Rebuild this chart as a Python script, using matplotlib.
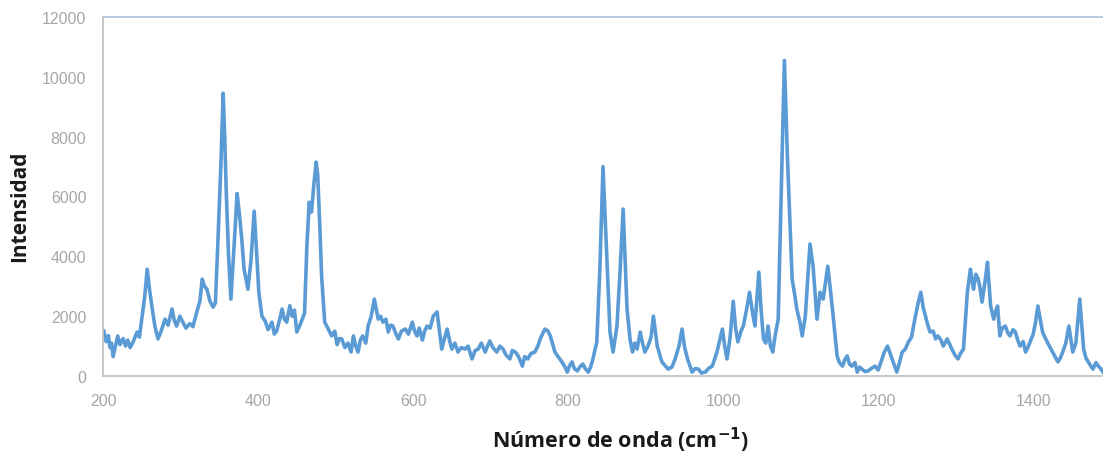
import matplotlib.pyplot as plt

# Raman spectrum
wavenumber = [
    201, 204, 207, 209, 211, 213, 216, 219, 222, 226, 229, 232, 235, 239, 244, 247, 250,
    254, 257, 260, 263, 267, 271, 275, 280, 284, 289, 292, 295, 299, 303, 307,
    312, 316, 321, 325, 328, 331, 334, 338, 342, 345, 348, 352, 355, 357, 359, 362, 365,
    369, 373, 376, 379, 382, 387, 391, 395, 398, 401, 405,
    409, 413, 418, 421, 424, 428, 431, 434, 437, 441, 444, 447, 450, 454, 457, 460,
    463, 466, 469, 472, 475, 477, 480, 482, 486, 490,
    495, 499, 502, 505, 508, 512, 516, 520, 523, 526, 529, 532, 535, 539, 542, 546,
    550, 552, 555, 558, 561, 565, 568, 571, 574, 578, 581, 585, 590, 594,
    599, 602, 605, 608, 612, 615, 618, 622, 626, 631, 634, 637, 641, 644, 647, 650,
    654, 658, 662, 667, 671, 676, 680, 684, 688, 693, 696, 699, 703,
    708, 712, 716, 720, 725, 728, 732, 736, 741, 744, 748, 752, 757, 761, 764, 770,
    774, 777, 783, 787, 792, 796, 799, 802, 805, 808, 812, 815,
    819, 822, 826, 829, 832, 837, 841, 845, 850, 854, 858, 863, 867, 871, 876, 880,
    883, 886, 889, 893, 896, 899, 903, 907, 910, 915, 921, 925, 929, 934, 938, 943,
    947, 950, 954, 960, 964, 968, 972, 977, 981, 986, 992, 999,
    1002, 1005, 1009, 1013, 1016, 1019, 1023, 1026, 1030, 1034, 1038, 1041, 1046,
    1049, 1052, 1055, 1058, 1061, 1064, 1067, 1071,
    1076, 1079, 1083, 1089, 1093, 1095, 1099, 1102, 1106, 1112, 1116, 1121, 1125, 1129,
    1135, 1141, 1147, 1150, 1154, 1157, 1160, 1163, 1166, 1170, 1173, 1176, 1179, 1183,
    1187, 1191, 1196, 1200, 1205, 1208, 1212,
    1218, 1224, 1228, 1231, 1235, 1239, 1243, 1248, 1252, 1255, 1258, 1261, 1264, 1267,
    1271, 1274, 1277, 1281, 1284, 1289,
    1295, 1299, 1303, 1306, 1310, 1315, 1319, 1321, 1323, 1326, 1329, 1331, 1334, 1338,
    1341, 1345, 1349, 1352, 1354,
    1357, 1360, 1364, 1367, 1370, 1374, 1377, 1380, 1383, 1387, 1390, 1393, 1396, 1400,
    1403, 1406, 1409, 1412, 1415, 1418, 1422, 1425,
    1428, 1432, 1435, 1438, 1442, 1446, 1451, 1455, 1460, 1465, 1468, 1471, 1474, 1477,
    1481, 1484, 1487, 1490,
]
intensity = [
    1500, 1150, 1350, 950, 1100, 650, 1000, 1340, 1050, 1250, 1000, 1200, 950, 1150, 1470, 1300, 1900,
    2700, 3570, 2900, 2340, 1650, 1240, 1500, 1900, 1700, 2240, 1850, 1670, 2000, 1800, 1600,
    1750, 1650, 2140, 2500, 3240, 3000, 2900, 2500, 2300, 2450, 4340, 7000, 9450, 8000, 6150, 4000, 2570,
    4300, 6100, 5400, 4580, 3570, 2900, 3900, 5510, 4200, 2800, 2000,
    1850, 1550, 1800, 1400, 1500, 1900, 2240, 1900, 1800, 2350, 2000, 2200, 1470, 1700, 1900, 2100,
    4340, 5810, 5480, 6400, 7150, 6700, 4800, 3340, 1800, 1600,
    1340, 1500, 1050, 1250, 1240, 950, 1100, 800, 1340, 1000, 800, 1200, 1340, 1100, 1670, 2000,
    2570, 2300, 1900, 2000, 1800, 1900, 1470, 1700, 1670, 1400, 1240, 1500, 1570, 1400,
    1800, 1500, 1340, 1600, 1200, 1500, 1670, 1600, 2000, 2140, 1500, 900, 1300, 1570, 1200, 900,
    1100, 800, 950, 900, 1000, 570, 850, 900, 1100, 800, 1000, 1170, 950,
    800, 1000, 900, 700, 570, 850, 800, 650, 330, 650, 570, 750, 800, 1000, 1240, 1570,
    1500, 1340, 800, 650, 470, 300, 130, 350, 470, 250, 170, 300,
    400, 250, 130, 300, 570, 1140, 3600, 7000, 3900, 1470, 800, 1670, 3500, 5580, 2240, 1200,
    800, 1100, 900, 1470, 1100, 800, 1000, 1300, 2000, 1000, 470, 350, 230, 300, 570, 1000,
    1570, 1000, 570, 130, 250, 230, 100, 130, 250, 330, 800, 1570,
    1000, 570, 1300, 2500, 1600, 1140, 1500, 1670, 2200, 2800, 2100, 1670, 3470,
    2200, 1240, 1100, 1670, 1000, 800, 1340, 1900,
    7250, 10550, 7250, 3240, 2600, 2240, 1800, 1340, 2000, 4410, 3670, 1900, 2800, 2570,
    3670, 2240, 670, 450, 330, 550, 670, 400, 330, 450, 130, 300, 230, 150,
    170, 250, 330, 200, 570, 800, 1000,
    570, 130, 500, 800, 900, 1140, 1300, 2000, 2500, 2800, 2300, 2000, 1700, 1470,
    1500, 1240, 1340, 1200, 1000, 1240,
    900, 700, 570, 750, 900, 2800, 3570, 3200, 2900, 3400, 3240, 3000, 2470, 3200,
    3800, 2340, 1900, 2200, 2340,
    1340, 1600, 1670, 1450, 1340, 1550, 1470, 1200, 1000, 1150, 800, 950, 1140, 1400,
    1800, 2340, 1900, 1470, 1300, 1140, 950, 800,
    650, 470, 600, 800, 1100, 1670, 800, 1100, 2570, 900, 600, 470, 350, 230,
    450, 330, 250, 130,
]

fig = plt.figure(figsize=(11.03, 4.56), dpi=100)
ax = fig.add_axes([103 / 1103, 1 - 377 / 456, 1 - 103 / 1103, (377 - 18) / 456])

ax.plot(wavenumber, intensity, color="#5B9BD5", linewidth=2.6, solid_joinstyle="round")

ax.set_xlim(200, 1490)
ax.set_ylim(0, 12000)
ax.set_xticks([200, 400, 600, 800, 1000, 1200, 1400])
ax.set_yticks([0, 2000, 4000, 6000, 8000, 10000, 12000])

# estilo tipo Excel
for side in ["left", "bottom"]:
    ax.spines[side].set_color("#BFBFBF")
    ax.spines[side].set_linewidth(1.2)
ax.spines["top"].set_color("#A9C1DC")
ax.spines["top"].set_linewidth(1.2)
ax.spines["right"].set_visible(False)
ax.tick_params(length=0, labelsize=11.5, labelcolor="#A6A6A6", labelfontfamily="Liberation Sans")
ax.tick_params(axis="y", pad=12)
ax.tick_params(axis="x", pad=12)

fig.text(621 / 1103, 1 - 440 / 456, r"Número de onda (cm$^{\mathbf{-1}}$)",
         ha="center", va="center", fontsize=15.5, fontweight="bold",
         family="Open Sans", color="#1A1A1A")
fig.text(20 / 1103, 1 - 206 / 456, "Intensidad", rotation=90,
         ha="center", va="center", fontsize=15, fontweight="bold",
         family="Open Sans", color="#1A1A1A")

fig.savefig("out.png", dpi=100)
